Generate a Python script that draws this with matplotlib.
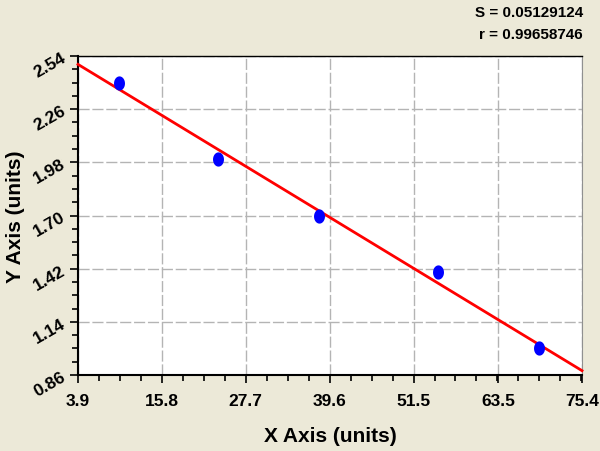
import numpy as np
import matplotlib.pyplot as plt
from matplotlib.ticker import AutoMinorLocator

# data
x_vals = [9.7, 23.8, 38.1, 55.0, 69.3]
y_vals = [2.40, 2.00, 1.70, 1.40, 1.00]
x_ticks = [3.9, 15.8, 27.7, 39.6, 51.5, 63.5, 75.4]
y_ticks = [0.86, 1.14, 1.42, 1.70, 1.98, 2.26, 2.54]
s_text = "S = 0.05129124"
r_text = "r = 0.99658746"

plt.rcParams['font.family'] = ['Liberation Sans', 'DejaVu Sans']
plt.rcParams['font.weight'] = 'bold'

bg = '#ECE9D8'
fig = plt.figure(figsize=(6, 4.52), dpi=100, facecolor=bg)
ax = fig.add_axes([78/600, 1-376/452, 504/600, 319/452])
ax.set_facecolor('white')

# fit line
k, b = np.polyfit(x_vals, y_vals, 1)
lx = np.array([x_ticks[0], x_ticks[-1]])
ax.plot(lx, k*lx + b, color='#ff0000', lw=2, zorder=3, clip_on=False)

# elliptical markers, taller than wide
t = np.linspace(0, 2*np.pi, 40)
ell = np.column_stack([0.77*np.cos(t), np.sin(t)])
ax.scatter(x_vals, y_vals, marker=ell, s=105, color='#0000ff', lw=0, zorder=4)

ax.set_xlim(x_ticks[0], x_ticks[-1])
ax.set_ylim(y_ticks[0], y_ticks[-1])
ax.set_xticks(x_ticks)
ax.set_yticks(y_ticks)
ax.set_xticklabels([str(v) for v in x_ticks])
ax.set_yticklabels(['%.2f' % v for v in y_ticks], rotation=30, va='center', ha='right',
                   rotation_mode='anchor')
ax.xaxis.set_minor_locator(AutoMinorLocator(4))
ax.yaxis.set_minor_locator(AutoMinorLocator(4))
ax.tick_params(which='major', length=6, width=1.2, labelsize=12.5)
ax.tick_params(which='minor', length=4, width=1.2)
ax.tick_params(axis='x', pad=7)
ax.tick_params(axis='y', pad=4)

ax.grid(True, which='major', color='#b4b4b4', ls=(0, (8, 2)), lw=1)
for sp in ['left', 'bottom', 'top']:
    ax.spines[sp].set_color('black')
ax.spines['left'].set_linewidth(1.5)
ax.spines['bottom'].set_linewidth(1.5)
ax.spines['top'].set_linewidth(1)
ax.spines['right'].set_color('#909090')

ax.set_xlabel('X Axis (units)', fontsize=15, fontweight='bold')
ax.set_ylabel('Y Axis (units)', fontsize=15, fontweight='bold')
ax.xaxis.set_label_coords(0.5, (376-427)/319)
ax.yaxis.set_label_coords((25-78)/504, 0.5)

fig.text(583/600, 1-13/452, s_text, ha='right', va='center', fontsize=11, fontweight='bold')
fig.text(583/600, 1-35/452, r_text, ha='right', va='center', fontsize=11, fontweight='bold')

fig.savefig('out.png', dpi=100, facecolor=bg)
